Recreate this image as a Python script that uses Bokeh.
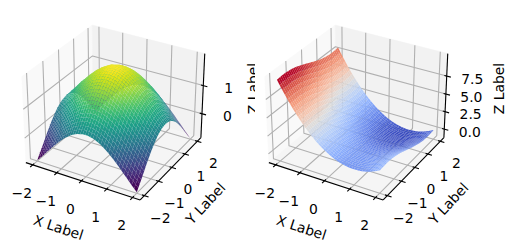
import numpy as np
from bokeh.plotting import figure
from bokeh.models import ColumnDataSource
from bokeh.core.properties import value
from bokeh.embed import file_html
from bokeh.resources import INLINE
from bokeh.palettes import Viridis256

grid_x = [-2.0,-1.9,-1.8,-1.7,-1.6,-1.5,-1.4,-1.3,-1.2,-1.1,-1.0,-0.9,-0.8,-0.7,-0.6,-0.5,-0.4,-0.3,-0.2,-0.1,0.0,
          0.1,0.2,0.3,0.4,0.5,0.6,0.7,0.8,0.9,1.0,1.1,1.2,1.3,1.4,1.5,1.6,1.7,1.8,1.9,2.0]
grid_y = list(grid_x)

# left surface: height read as the sum of a profile along x and one along y
left_along_x = [-0.42,-0.32,-0.23,-0.13,-0.03,0.07,0.17,0.27,0.36,0.45,0.54,0.62,0.70,0.76,0.83,0.88,0.92,0.96,0.98,1.00,1.00,
                1.00,0.98,0.96,0.92,0.88,0.83,0.76,0.70,0.62,0.54,0.45,0.36,0.27,0.17,0.07,-0.03,-0.13,-0.23,-0.32,-0.42]
left_along_y = list(left_along_x)
# right surface: same reading
right_along_x = [9.00,8.41,7.84,7.29,6.76,6.25,5.76,5.29,4.84,4.41,4.00,3.61,3.24,2.89,2.56,2.25,1.96,1.69,1.44,1.21,1.00,
                 0.81,0.64,0.49,0.36,0.25,0.16,0.09,0.04,0.01,0.00,0.01,0.04,0.09,0.16,0.25,0.36,0.49,0.64,0.81,1.00]
right_along_y = [0.91,0.95,0.97,0.99,1.00,1.00,0.99,0.96,0.93,0.89,0.84,0.78,0.72,0.64,0.56,0.48,0.39,0.30,0.20,0.10,0.00,
                 -0.10,-0.20,-0.30,-0.39,-0.48,-0.56,-0.64,-0.72,-0.78,-0.84,-0.89,-0.93,-0.96,-0.99,-1.00,-1.00,-0.99,-0.97,-0.95,-0.91]

xy_ticks = [-2, -1, 0, 1, 2]
xy_tick_labels = ["\u22122", "\u22121", "0", "1", "2"]
left_z_ticks = [0, 1]
left_z_labels = ["0", "1"]
right_z_ticks = [0, 2.5, 5, 7.5]
right_z_labels = ["0.0", "2.5", "5.0", "7.5"]

coolwarm_stops = [(58,76,192),(98,130,234),(141,176,254),(184,208,249),(221,221,221),
                  (245,196,173),(244,154,123),(222,96,77),(180,4,38)]

FONT = value("DejaVu Sans")
FS = "13.9px"
L = 2.29
SCALE = 1100.0
BOX = np.array([1.1905, 1.1905, 0.8929])
U = np.array([0.8660, 0.5, 0.0])
V = np.array([-0.25, 0.4330, 0.8660])
W = np.array([0.4330, -0.75, 0.5])

p = figure(width=516, height=251, x_range=(0, 516), y_range=(251, 0),
           output_backend="svg", toolbar_location=None, min_border=0)
p.axis.visible = False
p.grid.visible = False
p.outline_line_color = None


def viridis(t):
    return Viridis256[int(np.clip(t, 0, 1) * 255)]


def coolwarm(t):
    s = np.clip(t, 0, 1) * (len(coolwarm_stops) - 1)
    i = min(int(s), len(coolwarm_stops) - 2)
    f = s - i
    a, b = coolwarm_stops[i], coolwarm_stops[i + 1]
    return "#%02x%02x%02x" % tuple(int(round(a[k] + (b[k] - a[k]) * f)) for k in range(3))


def panel(zx, zy, zlim, zticks, zlabels, cmap, ox, oy, xt_off, yt_off, zt_off,
          xlab, ylab, zlab):
    def world(x, y, z):
        x, y, z = np.asarray(x, float), np.asarray(y, float), np.asarray(z, float)
        return np.stack([x / L * BOX[0] / 2, y / L * BOX[1] / 2,
                         ((z - zlim[0]) / (zlim[1] - zlim[0]) - 0.5) * BOX[2]], axis=-1)

    def proj(x, y, z):
        w = world(x, y, z)
        d = 10 - w @ W
        return ox + SCALE * (w @ U) / d, oy - SCALE * (w @ V) / d, d

    def polyline(pts, **kw):
        xs, ys, _ = proj(*zip(*pts))
        p.line(list(xs), list(ys), **kw)

    z0, z1 = zlim
    # panes
    for corners, col in [([(-L,-L,z0),(-L,L,z0),(-L,L,z1),(-L,-L,z1)], "#f9f9f9"),
                         ([(-L,L,z0),(L,L,z0),(L,L,z1),(-L,L,z1)], "#f2f2f2"),
                         ([(-L,-L,z0),(L,-L,z0),(L,L,z0),(-L,L,z0)], "#f5f5f5")]:
        xs, ys, _ = proj(*zip(*corners))
        p.patch(list(xs), list(ys), fill_color=col, line_color=col, line_width=0.5)

    gs = dict(line_color="#b0b0b0", line_width=1.1)
    for t in xy_ticks:
        polyline([(t,-L,z0),(t,L,z0),(t,L,z1)], **gs)
        polyline([(L,t,z0),(-L,t,z0),(-L,t,z1)], **gs)
    for t in zticks:
        polyline([(-L,-L,t),(-L,L,t),(L,L,t)], **gs)

    ax = dict(line_color="black", line_width=1.1)
    polyline([(-L,-L,z0),(L,-L,z0)], **ax)
    polyline([(L,-L,z0),(L,L,z0)], **ax)
    polyline([(L,L,z0),(L,L,z1)], **ax)
    d_out, d_in = 0.035 * 2 * L, 0.02 * 2 * L
    for t, lab in zip(xy_ticks, xy_tick_labels):
        polyline([(t,-L+d_in,z0),(t,-L-d_out,z0)], **ax)
        polyline([(L-d_in,t,z0),(L+d_out,t,z0)], **ax)
        xa, ya, _ = proj(t, -L, z0)
        p.text([float(xa)+xt_off[0]], [float(ya)+xt_off[1]], text=[lab], text_font=FONT,
               text_font_size=FS, text_align="center", text_baseline="middle", text_color="#000000")
        xa, ya, _ = proj(L, t, z0)
        p.text([float(xa)+yt_off[0]], [float(ya)+yt_off[1]], text=[lab], text_font=FONT,
               text_font_size=FS, text_align="center", text_baseline="middle", text_color="#000000")
    for t, lab in zip(zticks, zlabels):
        polyline([(L-d_in,L,t),(L+d_out,L,t)], **ax)
        xa, ya, _ = proj(L, L, t)
        p.text([float(xa)+zt_off[0]], [float(ya)+zt_off[1]], text=[lab], text_font=FONT,
               text_font_size=FS, text_align="center", text_baseline="middle", text_color="#000000")

    for (tx, ty, ang, s) in (xlab, ylab, zlab):
        p.text([tx], [ty], text=[s], angle=[ang], angle_units="deg", text_font=FONT,
               text_font_size=FS, text_align="center", text_baseline="middle", text_color="#000000")

    # surface
    X, Y = np.meshgrid(grid_x, grid_y, indexing="ij")
    Z = np.add.outer(np.array(zx), np.array(zy))
    sx, sy, sd = proj(X, Y, Z)
    avg = (Z[:-1,:-1] + Z[1:,:-1] + Z[1:,1:] + Z[:-1,1:]) / 4
    dep = (sd[:-1,:-1] + sd[1:,:-1] + sd[1:,1:] + sd[:-1,1:]) / 4
    lo, hi = avg.min(), avg.max()
    order = np.argsort(-dep, axis=None)
    n = X.shape[0] - 1
    qx, qy, qc = [], [], []
    for k in order:
        i, j = np.unravel_index(k, (n, X.shape[1] - 1))
        qx.append([sx[i,j], sx[i+1,j], sx[i+1,j+1], sx[i,j+1]])
        qy.append([sy[i,j], sy[i+1,j], sy[i+1,j+1], sy[i,j+1]])
        qc.append(cmap((avg[i,j] - lo) / (hi - lo)))
    src = ColumnDataSource(dict(xs=qx, ys=qy, c=qc))
    p.patches("xs", "ys", source=src, fill_color="c", line_color=None)


# left axes
panel(left_along_x, left_along_y, (-0.87, 2.10), left_z_ticks, left_z_labels, viridis,
      114.5, 107.8, (-11, 28), (16, 22), (25.5, 2.5),
      (58, 227, -18, "X Label"), (205, 203, 47, "Y Label"), (252, 88, 90, "Z Label"))

# right axes background hides the end of the left Z label
p.quad(left=[254.5], right=[516], top=[0], bottom=[251], fill_color="white", line_color=None)

panel(right_along_x, right_along_y, (-1.25, 10.55), right_z_ticks, right_z_labels, coolwarm,
      357.5, 107.8, (-11, 28), (16, 22), (25.5, 2.5),
      (301, 227, -18, "X Label"), (448, 203, 47, "Y Label"), (498, 88, 90, "Z Label"))

open("out.html", "w").write(file_html(p, INLINE))
